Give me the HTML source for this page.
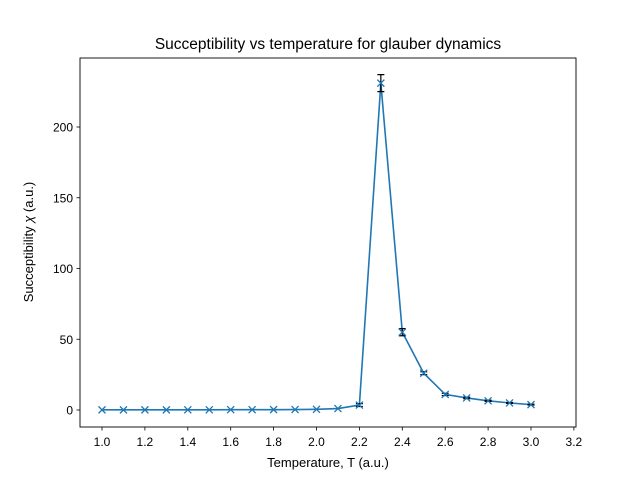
<!DOCTYPE html>
<html><head><meta charset="utf-8"><style>
body{margin:0;background:#fff}
svg text{font-family:"Liberation Sans",sans-serif;fill:#000}
</style></head><body>
<svg id="chart" width="640" height="480" xmlns="http://www.w3.org/2000/svg">
<rect width="640" height="480" fill="#fff"/>
<text x="328" y="49" font-size="15.5" text-anchor="middle">Succeptibility vs temperature for glauber dynamics</text>
<g id="plot"></g>
<rect x="80" y="58" width="496" height="369" fill="none" stroke="#000" stroke-width="0.9"/>
<text x="328" y="467" font-size="13" text-anchor="middle">Temperature, T (a.u.)</text>
<text transform="translate(33,242) rotate(-90)" font-size="13" text-anchor="middle">Succeptibility <tspan font-style="italic">χ</tspan> (a.u.)</text>
</svg>
<script>
const temps=[1.0,1.1,1.2,1.3,1.4,1.5,1.6,1.7,1.8,1.9,2.0,2.1,2.2,2.3,2.4,2.5,2.6,2.7,2.8,2.9,3.0];
const chi=[0.1,0.1,0.1,0.1,0.15,0.15,0.2,0.2,0.25,0.3,0.5,1.0,3.5,231,55,26,11,8.5,6.5,5,3.8];
const errs=[0,0,0,0,0,0,0,0,0,0,0,0,1,6,2.5,1,0.8,0.5,0.4,0.3,0.3];
const xTicks=[1.0,1.2,1.4,1.6,1.8,2.0,2.2,2.4,2.6,2.8,3.0,3.2];
const yTicks=[0,50,100,150,200];
const X=v=>102+(v-1.0)*214.5;
const Y=v=>410-v*1.415;
const g=document.getElementById('plot');
const NS='http://www.w3.org/2000/svg';
function mk(t,a){const e=document.createElementNS(NS,t);for(const k in a)e.setAttribute(k,a[k]);g.appendChild(e);return e;}
xTicks.forEach(t=>{
 const l=mk('line',{x1:X(t),x2:X(t),y1:427,y2:430.5,stroke:'#000','stroke-width':0.8});
 
 
 const s=mk('text',{x:X(t),y:446,'font-size':12,'text-anchor':'middle'});s.textContent=t.toFixed(1);
 
 
});
yTicks.forEach(t=>{
 const l=mk('line',{x1:76.5,x2:80,y1:Y(t),y2:Y(t),stroke:'#000','stroke-width':0.8});
 
 
 const s=mk('text',{x:73,y:Y(t)+4.5,'font-size':12,'text-anchor':'end'});s.textContent=t;
 
 
});
const c='#1f77b4';
const p=mk('polyline',{points:temps.map((t,i)=>X(t)+','+Y(chi[i])).join(' '),fill:'none',stroke:c,'stroke-width':1.6});


temps.forEach((t,i)=>{
 const x=X(t),y=Y(chi[i]);
 if(errs[i]>0){
  const e=mk('path',{d:`M${x},${Y(chi[i]+errs[i])}V${Y(chi[i]-errs[i])}M${x-3.5},${Y(chi[i]+errs[i])}h7M${x-3.5},${Y(chi[i]-errs[i])}h7`,stroke:'#000','stroke-width':1.2,fill:'none'});
  
  
 }
 const m=mk('path',{d:`M${x-3.5},${y-3.5}L${x+3.5},${y+3.5}M${x-3.5},${y+3.5}L${x+3.5},${y-3.5}`,stroke:c,'stroke-width':1.3});
 
 
});
</script>
</body></html>
